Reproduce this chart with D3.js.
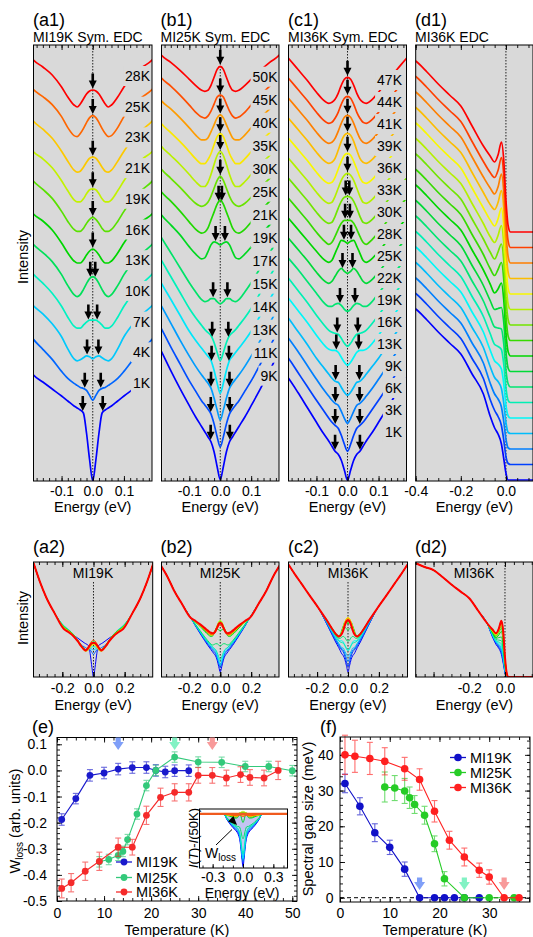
<!DOCTYPE html>
<html>
<head>
<meta charset="utf-8">
<script src="https://cdn.jsdelivr.net/npm/d3@7"></script>
<style>
  body { margin: 0; background: #fff; }
  svg { display: block; }
</style>
</head>
<body>
<svg id="fig"></svg>
<script>
const W = 533;
const H = 937;

// ── Data ──────────────────────────────────────────────────────────────────────

// symmetrised EDCs: positive-energy half (eV), mirrored when drawn
const E_SYM = [0, 0.01, 0.02, 0.03, 0.04, 0.05, 0.06, 0.08, 0.10, 0.13, 0.16, 0.19];

// MI19K (a1 / a2)
const A_TEMPS = [1, 4, 7, 10, 13, 16, 19, 21, 23, 25, 28];
const A_CURVES = [
  [0, 21, 48, 68, 71, 73, 75, 80, 85, 92, 99, 106],
  [49, 54, 59, 61, 62, 64, 66, 71, 78, 90, 100, 110],
  [59, 61, 62, 60, 58, 57, 59, 69, 81, 94, 104, 112],
  [66, 66, 64, 61, 58, 58, 60, 69, 80, 93, 103, 112],
  [78, 76, 71, 65, 60, 58, 60, 69, 80, 93, 102, 110],
  [74, 72, 68, 63, 60, 60, 62, 70, 80, 93, 102, 109],
  [74, 72, 68, 63, 60, 60, 62, 70, 80, 93, 102, 110],
  [71, 70, 66, 61, 58, 58, 60, 69, 79, 92, 101, 108],
  [71, 70, 66, 61, 57, 56, 58, 67, 77, 90, 99, 107],
  [81, 79, 74, 68, 63, 60, 61, 69, 80, 92, 100, 107],
  [75, 74, 71, 66, 61, 58, 60, 68, 78, 90, 98, 105],
];
const A_TAIL_E = [0.25, 0.30, 0.34, 0.385];
const A_TAIL   = [140, 172, 205, 250];

// MI25K (b1 / b2)
const B_TEMPS = [9, 11, 13, 14, 15, 17, 19, 21, 25, 30, 35, 40, 45, 50];
const B_CURVES = [
  [12, 25, 40, 50, 55, 60, 65, 75, 86, 103, 121, 140],
  [22, 32, 45, 55, 60, 64, 68, 78, 88, 105, 122, 140],
  [26, 36, 48, 58, 63, 67, 71, 80, 90, 106, 123, 140],
  [30, 40, 53, 63, 67, 71, 75, 83, 92, 108, 124, 140],
  [40, 48, 58, 65, 68, 71, 75, 83, 92, 108, 124, 140],
  [74, 76, 79, 79, 77, 76, 78, 86, 95, 110, 125, 140],
  [110, 112, 113, 110, 103, 97, 96, 101, 108, 120, 130, 140],
  [132, 128, 120, 112, 104, 100, 99, 103, 110, 121, 131, 140],
  [133, 129, 121, 113, 107, 104, 103, 106, 112, 122, 131, 140],
  [135, 131, 122, 112, 104, 100, 100, 105, 112, 122, 131, 140],
  [130, 127, 119, 110, 104, 100, 100, 105, 112, 122, 131, 140],
  [126, 123, 116, 109, 103, 101, 101, 106, 113, 123, 132, 140],
  [123, 121, 114, 107, 102, 100, 101, 106, 113, 123, 132, 140],
  [129, 126, 118, 110, 105, 104, 105, 110, 116, 125, 133, 140],
];
const B_TAIL_E = [0.25, 0.30, 0.34, 0.385];
const B_TAIL   = [175, 206, 237, 265];

// MI36K (c1 / c2)
const C_TEMPS = [1, 3, 6, 9, 13, 16, 19, 22, 25, 28, 30, 33, 36, 39, 41, 44, 47];
const C_CURVES = [
  [8, 18, 28, 34, 37, 42, 47, 56, 66, 81, 96, 110],
  [17, 24, 33, 40, 43, 46, 50, 59, 68, 82, 96, 110],
  [25, 30, 37, 43, 45, 48, 52, 60, 69, 83, 97, 110],
  [33, 36, 41, 46, 47, 50, 54, 62, 70, 84, 97, 110],
  [43, 46, 51, 56, 58, 58, 59, 65, 73, 86, 98, 110],
  [42, 45, 50, 54, 55, 56, 58, 65, 73, 86, 98, 110],
  [57, 59, 63, 65, 64, 62, 62, 67, 75, 87, 99, 110],
  [75, 77, 80, 77, 72, 67, 65, 69, 76, 88, 99, 110],
  [85, 87, 88, 82, 75, 68, 66, 70, 77, 88, 99, 110],
  [88, 88, 85, 79, 72, 66, 64, 69, 76, 88, 99, 110],
  [92, 91, 87, 80, 72, 66, 65, 69, 76, 88, 99, 110],
  [95, 93, 88, 80, 72, 66, 65, 69, 76, 88, 99, 110],
  [95, 93, 87, 79, 71, 66, 65, 69, 76, 88, 99, 110],
  [95, 93, 87, 78, 70, 66, 65, 69, 76, 88, 99, 110],
  [93, 91, 85, 77, 70, 66, 65, 69, 76, 88, 99, 110],
  [92, 90, 84, 76, 70, 66, 65, 69, 76, 88, 99, 110],
  [91, 89, 83, 75, 69, 66, 65, 69, 76, 88, 99, 110],
];
const C_TAIL_E = [0.25, 0.30, 0.34, 0.385];
const C_TAIL   = [131, 149, 163, 180];

// MI36K raw EDCs (d1 / d2), same temperatures as C_TEMPS
const E_D = [-0.5, -0.45, -0.4, -0.35, -0.3, -0.25, -0.2, -0.15, -0.1,
             -0.07, -0.05, -0.035, -0.02, -0.01, 0, 0.01, 0.02, 0.16];
const D_BROAD = [182, 176, 171, 160, 148, 137, 126, 106, 86];
const D_CURVES = [
  [64, 52, 46, 36, 22, 7, 0, 0, 0],
  [65, 54, 48, 39, 25, 8, 1, 0, 0],
  [66, 55, 50, 42, 28, 10, 1, 0, 0],
  [67, 56, 52, 45, 31, 11, 1, 0, 0],
  [68, 57, 54, 49, 35, 13, 2, 0, 0],
  [69, 58, 56, 53, 39, 15, 2, 0, 0],
  [70, 60, 59, 58, 44, 17, 3, 0, 0],
  [71, 62, 63, 64, 50, 20, 3, 0, 0],
  [72, 63, 67, 73, 57, 23, 4, 0, 0],
  [72, 65, 71, 78, 62, 25, 4, 0, 0],
  [73, 66, 73, 81, 65, 27, 5, 0, 0],
  [73, 67, 74, 84, 67, 28, 5, 0, 0],
  [74, 68, 75, 86, 69, 29, 5, 0, 0],
  [74, 69, 76, 88, 71, 30, 6, 0, 0],
  [75, 69, 76, 89, 72, 31, 6, 0, 0],
  [75, 70, 77, 90, 73, 31, 6, 0, 0],
  [76, 70, 77, 90, 73, 32, 6, 0, 0],
];

// (e) spectral weight loss
const WL_19_T   = [1, 4, 7, 10, 13, 16, 19, 21, 23, 25, 28];
const WL_19     = [-0.188, -0.108, -0.019, -0.01, 0.005, 0.011, 0.011, 0.0, -0.006, -0.001, -0.001];
const WL_19_ERR = [0.022, 0.02, 0.022, 0.022, 0.022, 0.022, 0.022, 0.022, 0.022, 0.022, 0.022];
const WL_25_T   = [9, 11, 13, 14, 15, 17, 19, 21, 25, 30, 35, 40, 45, 50];
const WL_25     = [-0.35, -0.341, -0.325, -0.31, -0.265, -0.167, -0.058, 0.0, 0.051, 0.032, 0.031, 0.015, 0.015, -0.001];
const WL_25_ERR = [0.02, 0.02, 0.02, 0.02, 0.02, 0.02, 0.02, 0.02, 0.02, 0.02, 0.02, 0.02, 0.02, 0.02];
const WL_36_T   = [1, 3, 6, 9, 13, 16, 19, 22, 25, 28, 30, 33, 36, 39, 41, 44, 47];
const WL_36     = [-0.452, -0.43, -0.386, -0.348, -0.294, -0.294, -0.172, -0.103, -0.084, -0.084,
                   -0.019, -0.019, -0.029, -0.016, -0.027, -0.029, 0.0];
const WL_36_ERR = [0.036, 0.035, 0.035, 0.035, 0.035, 0.03, 0.035, 0.035, 0.033, 0.033,
                   0.03, 0.03, 0.03, 0.03, 0.03, 0.03, 0.035];
const WL_MARK_T = [13, 25, 33];

// (f) spectral gap size (meV)
const GAP_19_T   = [1, 4, 7, 10, 13, 16, 19, 21, 23, 25, 28];
const GAP_19     = [32, 25.6, 18.2, 14.1, 8, 0, 0, 0, 0, 0, 0];
const GAP_19_ERR = [2.6, 2.4, 2.5, 2, 2, 0, 0, 0, 0, 0, 0];
const GAP_25_T   = [9, 11, 13, 14, 15, 17, 19, 21, 25, 30, 35];
const GAP_25     = [31, 30.7, 29.9, 28, 26.1, 23.1, 15.1, 5.3, 0, 0, 0];
const GAP_25_ERR = [4.2, 3.5, 3.5, 3, 2.5, 2.5, 2.2, 2, 0, 0, 0];
const GAP_36_T   = [1, 3, 6, 9, 13, 16, 19, 22, 25, 28, 30, 33, 36];
const GAP_36     = [40, 39.6, 39, 38.2, 36.1, 33.1, 24.2, 16.1, 11.4, 7.7, 5.8, 0, 0];
const GAP_36_ERR = [5.5, 4.5, 4.5, 3.8, 3.2, 3, 3, 2.5, 2.5, 2, 2, 0, 0];
const GAP_MARK_T = [16, 25, 33];

const SAMPLES = ['MI19K', 'MI25K', 'MI36K'];

// ── Style ─────────────────────────────────────────────────────────────────────

const FF = '"Liberation Sans", Arial, Helvetica, sans-serif';
const BG = '#d9d9d9';
const TOP_Y0 = 45, TOP_Y1 = 481;
const MID_Y0 = 562, MID_Y1 = 677;
const ARROW = 'M0,0L-4,-8L-1.3,-8L-1.3,-15L1.3,-15L1.3,-8L4,-8Z';
const BLOCK_ARROW = 'M0,0L-5.5,-8L-2.6,-8L-2.6,-12.5L2.6,-12.5L2.6,-8L5.5,-8Z';
const E_COLORS = ['#1a1acc', '#33c97a', '#f52a2a'];
const F_COLORS = ['#1010c8', '#26cc26', '#ff2020'];
const MARK_COLORS = ['#7f9ff8', '#82f2c4', '#f89a9a'];

const svg = d3.select('#fig').attr('width', W).attr('height', H).attr('font-family', FF);
svg.append('rect').attr('width', W).attr('height', H).attr('fill', '#fff');
const defs = svg.append('defs');

function rainbow(i, n) {
  const h = 240 * (1 - i / (n - 1));
  const l = 0.5 - 0.08 * Math.exp(-Math.pow((h - 120) / 45, 2));
  return d3.hsl(h, 1, l).formatHex();
}

// ── Helpers ───────────────────────────────────────────────────────────────────

function symPoints(vals, tailE, tail) {
  const e = E_SYM.concat(tailE);
  const v = vals.concat(tail);
  const pos = e.map((x, k) => [x, v[k]]);
  const neg = pos.slice(1).map(([x, y]) => [-x, y]).reverse();
  return neg.concat(pos);
}

function edcPoints(vals) {
  const v = D_BROAD.concat(vals);
  return E_D.map((x, k) => [x, v[k]]);
}

function valueAt(pts, e) {
  for (let k = 1; k < pts.length; k++) {
    if (e <= pts[k][0]) {
      const [x0, y0] = pts[k - 1], [x1, y1] = pts[k];
      return y0 + (y1 - y0) * (e - x0) / (x1 - x0);
    }
  }
  return pts[pts.length - 1][1];
}

function addClip(id, x0, y0, x1, y1) {
  defs.append('clipPath').attr('id', id).append('rect')
    .attr('x', x0).attr('y', y0).attr('width', x1 - x0).attr('height', y1 - y0);
  return `url(#${id})`;
}

function stepRange(a, b, s) {
  const out = [];
  for (let k = Math.ceil(a / s - 1e-9); k * s <= b + 1e-9; k++) out.push(+(k * s).toFixed(4));
  return out;
}

function ticks(g, orient, scale, values, len, pos, fmt, pad) {
  const maker = { bottom: d3.axisBottom, top: d3.axisTop, left: d3.axisLeft, right: d3.axisRight }[orient];
  const ax = maker(scale).tickValues(values).tickSizeInner(-len).tickSizeOuter(0)
    .tickPadding(pad || 0).tickFormat(fmt || (() => ''));
  const horiz = orient === 'bottom' || orient === 'top';
  const a = g.append('g').attr('transform', horiz ? `translate(0,${pos})` : `translate(${pos},0)`).call(ax);
  a.select('.domain').remove();
  a.attr('font-family', FF).attr('font-size', 14);
  a.selectAll('line').attr('stroke', '#000').attr('stroke-width', 0.9);
  a.selectAll('text').attr('fill', '#000');
  return a;
}

const fmtE = d => d.toFixed(1);

function frame(g, x0, y0, x1, y1) {
  g.append('rect').attr('x', x0).attr('y', y0).attr('width', x1 - x0).attr('height', y1 - y0)
    .attr('fill', 'none').attr('stroke', '#000').attr('stroke-width', 1);
}

function vText(g, cx, cy, size, build) {
  const t = g.append('text').attr('transform', `translate(${cx},${cy}) rotate(-90)`)
    .attr('text-anchor', 'middle').attr('font-size', size).attr('dy', '0.35em');
  build(t);
  return t;
}

// ── Top row: stacked EDCs ─────────────────────────────────────────────────────

const gap19 = new Map(GAP_19_T.map((t, k) => [t, GAP_19[k]]));
const gap25 = new Map(GAP_25_T.map((t, k) => [t, GAP_25[k]]));
const gap36 = new Map(GAP_36_T.map((t, k) => [t, GAP_36[k]]));

function stackPanel(p) {
  const g = svg.append('g');
  const x = d3.scaleLinear().domain(p.xDom).range([p.left, p.right]);
  const y = d3.scaleLinear().domain([0, p.base0 - TOP_Y0]).range([p.base0, TOP_Y0]);
  const n = p.curves.length;

  g.append('rect').attr('x', p.left).attr('y', TOP_Y0)
    .attr('width', p.right - p.left).attr('height', TOP_Y1 - TOP_Y0).attr('fill', BG);

  const inner = g.append('g').attr('clip-path', addClip('clip-' + p.id, p.left, TOP_Y0, p.right, TOP_Y1));
  inner.append('line').attr('x1', x(0)).attr('x2', x(0)).attr('y1', TOP_Y0).attr('y2', TOP_Y1)
    .attr('stroke', '#222').attr('stroke-width', 1).attr('stroke-dasharray', '1.5,1.5');

  const series = p.curves.map((c, i) => p.points(c).map(([e, v]) => [e, v + i * p.step]));
  const line = d3.line().x(d => x(d[0])).y(d => y(d[1])).curve(d3.curveMonotoneX);
  inner.selectAll('path.edc').data(series).join('path')
    .attr('class', 'edc').attr('d', line).attr('fill', 'none')
    .attr('stroke', (d, i) => rainbow(i, n)).attr('stroke-width', 1.7);

  if (p.labelRight) {
    p.temps.forEach((t, i) => {
      const ly = p.labelY0 + (n - 1 - i) * p.labelStep;
      const lg = inner.append('g');
      const txt = lg.append('text').attr('x', p.labelRight).attr('y', ly + 5)
        .attr('text-anchor', 'end').attr('font-size', 14).text(t + 'K');
      const bb = txt.node().getBBox();
      lg.insert('rect', 'text').attr('x', bb.x - 2).attr('y', ly - 10)
        .attr('width', p.right - bb.x + 2).attr('height', 20).attr('fill', BG);
    });
  }

  if (p.gaps) {
    series.forEach((s, i) => {
      const gap = p.gaps.get(p.temps[i]) || 0;
      const es = gap > 0 ? [-gap / 1000, gap / 1000] : [0];
      es.forEach(e => {
        g.append('path').attr('d', ARROW).attr('fill', '#000')
          .attr('transform', `translate(${x(e)},${y(valueAt(s, e)) - 1.5})`);
      });
    });
  }

  const minors = stepRange(p.xDom[0], p.xDom[1], p.minorStep);
  ticks(g, 'bottom', x, minors, 3, TOP_Y1);
  ticks(g, 'top', x, minors, 3, TOP_Y0);
  ticks(g, 'top', x, p.majors, 5, TOP_Y0);
  ticks(g, 'bottom', x, p.majors, 5, TOP_Y1, fmtE, 5.5);
  frame(g, p.left, TOP_Y0, p.right, TOP_Y1);

  g.append('text').attr('x', (p.left + Math.min(p.right, W)) / 2).attr('y', 511.5)
    .attr('text-anchor', 'middle').attr('font-size', 14.5).text('Energy (eV)');
  g.append('text').attr('x', p.tagX).attr('y', 26).attr('font-size', 18).text(p.tag);
  g.append('text').attr('x', p.tagX).attr('y', 41.5).attr('font-size', 14).text(p.title);
}

stackPanel({
  id: 'a1', tag: '(a1)', title: 'MI19K Sym. EDC', tagX: 33,
  left: 33.5, right: 152, xDom: [-0.19, 0.19], base0: 481, step: 31.6,
  temps: A_TEMPS, curves: A_CURVES, points: c => symPoints(c, A_TAIL_E, A_TAIL),
  gaps: gap19, labelRight: 150, labelY0: 76, labelStep: 30.7,
  majors: [-0.1, 0, 0.1], minorStep: 0.02,
});
stackPanel({
  id: 'b1', tag: '(b1)', title: 'MI25K Sym. EDC', tagX: 160.5,
  left: 161.5, right: 279, xDom: [-0.19, 0.19], base0: 491.7, step: 22.8,
  temps: B_TEMPS, curves: B_CURVES, points: c => symPoints(c, B_TAIL_E, B_TAIL),
  gaps: gap25, labelRight: 277.5, labelY0: 76.7, labelStep: 23,
  majors: [-0.1, 0, 0.1], minorStep: 0.02,
});
stackPanel({
  id: 'c1', tag: '(c1)', title: 'MI36K Sym. EDC', tagX: 288,
  left: 288.5, right: 406.5, xDom: [-0.19, 0.19], base0: 488.3, step: 20,
  temps: C_TEMPS, curves: C_CURVES, points: c => symPoints(c, C_TAIL_E, C_TAIL),
  gaps: gap36, labelRight: 402, labelY0: 80, labelStep: 22,
  majors: [-0.1, 0, 0.1], minorStep: 0.02,
});
stackPanel({
  id: 'd1', tag: '(d1)', title: 'MI36K EDC', tagX: 415,
  left: 415.7, right: 533, xDom: [-0.4, 0.12], base0: 480, step: 15.5,
  temps: C_TEMPS, curves: D_CURVES, points: edcPoints,
  majors: [-0.4, -0.2, 0], minorStep: 0.05,
});

vText(svg, 23, 257, 14.5, t => t.text('Intensity'));

// ── Middle row: overlaid EDCs ─────────────────────────────────────────────────

function overlayPanel(p) {
  const g = svg.append('g');
  const x = d3.scaleLinear().domain(p.xDom).range([p.left, p.right]);
  const y = d3.scaleLinear().domain([0, p.yMax]).range([MID_Y1, MID_Y0]);
  const n = p.curves.length;

  g.append('rect').attr('x', p.left).attr('y', MID_Y0)
    .attr('width', p.right - p.left).attr('height', MID_Y1 - MID_Y0).attr('fill', BG);
  const inner = g.append('g').attr('clip-path', addClip('clip-' + p.id, p.left, MID_Y0, p.right, MID_Y1));
  inner.append('line').attr('x1', x(0)).attr('x2', x(0)).attr('y1', p.dotTop).attr('y2', MID_Y1)
    .attr('stroke', '#222').attr('stroke-width', 1).attr('stroke-dasharray', '1.5,1.5');

  const line = d3.line().x(d => x(d[0])).y(d => y(d[1])).curve(d3.curveMonotoneX);
  inner.selectAll('path.edc').data(p.curves.map(p.points)).join('path')
    .attr('class', 'edc').attr('d', line).attr('fill', 'none')
    .attr('stroke', (d, i) => rainbow(i, n))
    .attr('stroke-width', (d, i) => (i === n - 1 ? 2 : 1));

  g.append('text').attr('x', p.nameX).attr('y', 578).attr('text-anchor', 'middle')
    .attr('font-size', 14).text(p.name);

  const minors = stepRange(p.xDom[0], p.xDom[1], 0.05);
  ticks(g, 'bottom', x, minors, 3, MID_Y1);
  ticks(g, 'top', x, minors, 3, MID_Y0);
  ticks(g, 'top', x, p.majors, 5, MID_Y0);
  ticks(g, 'bottom', x, p.majors, 5, MID_Y1);
  ticks(g, 'bottom', x, p.labels, 5, MID_Y1, fmtE, 6);
  frame(g, p.left, MID_Y0, p.right, MID_Y1);

  g.append('text').attr('x', (p.left + Math.min(p.right, W)) / 2).attr('y', 710)
    .attr('text-anchor', 'middle').attr('font-size', 14.5).text('Energy (eV)');
  g.append('text').attr('x', p.tagX).attr('y', 553).attr('font-size', 18).text(p.tag);
}

overlayPanel({
  id: 'a2', tag: '(a2)', name: 'MI19K', tagX: 33, nameX: 93,
  left: 33.5, right: 152.7, xDom: [-0.385, 0.38], yMax: 252, dotTop: 582,
  curves: A_CURVES, points: c => symPoints(c, A_TAIL_E, A_TAIL),
  majors: [-0.2, 0, 0.2], labels: [-0.2, 0, 0.2],
});
overlayPanel({
  id: 'b2', tag: '(b2)', name: 'MI25K', tagX: 160.5, nameX: 220,
  left: 161.5, right: 279, xDom: [-0.38, 0.38], yMax: 273, dotTop: 582,
  curves: B_CURVES, points: c => symPoints(c, B_TAIL_E, B_TAIL),
  majors: [-0.2, 0, 0.2], labels: [-0.2, 0, 0.2],
});
overlayPanel({
  id: 'c2', tag: '(c2)', name: 'MI36K', tagX: 288, nameX: 348,
  left: 288.5, right: 407.5, xDom: [-0.385, 0.385], yMax: 184, dotTop: 582,
  curves: C_CURVES, points: c => symPoints(c, C_TAIL_E, C_TAIL),
  majors: [-0.2, 0, 0.2], labels: [-0.2, 0, 0.2],
});
overlayPanel({
  id: 'd2', tag: '(d2)', name: 'MI36K', tagX: 415, nameX: 474,
  left: 415.7, right: 533, xDom: [-0.5, 0.157], yMax: 184, dotTop: MID_Y0,
  curves: D_CURVES, points: edcPoints,
  majors: [-0.4, -0.2, 0], labels: [-0.2, 0],
});

vText(svg, 23, 618, 14.5, t => t.text('Intensity'));

// ── (e) spectral weight loss ──────────────────────────────────────────────────

function errorSeries(g, x, y, ts, vs, errs, color, r) {
  const pts = ts.map((t, k) => ({ t, v: vs[k], e: errs[k] }));
  const s = g.append('g');
  s.append('path').attr('d', d3.line().x(d => x(d.t)).y(d => y(d.v))(pts))
    .attr('fill', 'none').attr('stroke', color).attr('stroke-width', 1.1);
  const eb = s.append('g').attr('stroke', color).attr('stroke-width', 1.1).attr('opacity', 0.65);
  pts.filter(d => d.e > 0).forEach(d => {
    const xx = x(d.t), y0 = y(d.v - d.e), y1 = y(d.v + d.e);
    eb.append('line').attr('x1', xx).attr('x2', xx).attr('y1', y0).attr('y2', y1);
    eb.append('line').attr('x1', xx - 3).attr('x2', xx + 3).attr('y1', y0).attr('y2', y0);
    eb.append('line').attr('x1', xx - 3).attr('x2', xx + 3).attr('y1', y1).attr('y2', y1);
  });
  s.selectAll('circle').data(pts).join('circle')
    .attr('cx', d => x(d.t)).attr('cy', d => y(d.v)).attr('r', r).attr('fill', color);
}

function legend(g, x0, rows, colors, r) {
  SAMPLES.forEach((name, k) => {
    const yy = rows[k];
    g.append('line').attr('x1', x0).attr('x2', x0 + 16).attr('y1', yy).attr('y2', yy)
      .attr('stroke', colors[k]).attr('stroke-width', 1.3);
    g.append('circle').attr('cx', x0 + 8).attr('cy', yy).attr('r', r).attr('fill', colors[k]);
    g.append('text').attr('x', x0 + 20).attr('y', yy + 5).attr('font-size', 14.5).text(name);
  });
}

{
  const g = svg.append('g');
  const L = 57, R = 297, T = 737.5, B = 901;
  const x = d3.scaleLinear().domain([0, 51]).range([L, R]);
  const y = d3.scaleLinear().domain([-0.5, 0.126]).range([B, T]);

  const xMin = stepRange(0, 51, 2), yMin = stepRange(-0.5, 0.126, 0.02);
  const xMaj = [0, 10, 20, 30, 40, 50], yMaj = [-0.5, -0.4, -0.3, -0.2, -0.1, 0, 0.1];
  ticks(g, 'bottom', x, xMin, 3, B);
  ticks(g, 'top', x, xMin, 3, T);
  ticks(g, 'top', x, xMaj, 5, T);
  ticks(g, 'bottom', x, xMaj, 5, B, d => d, 7);
  ticks(g, 'left', y, yMin, 3, L);
  ticks(g, 'right', y, yMin, 3, R);
  ticks(g, 'right', y, yMaj, 5, R);
  ticks(g, 'left', y, yMaj, 5, L, d => d.toFixed(1), 10);
  frame(g, L, T, R, B);

  WL_MARK_T.forEach((t, k) => {
    g.append('path').attr('d', BLOCK_ARROW).attr('fill', MARK_COLORS[k])
      .attr('transform', `translate(${x(t)},750)`);
  });

  errorSeries(g, x, y, WL_19_T, WL_19, WL_19_ERR, E_COLORS[0], 3.4);
  errorSeries(g, x, y, WL_25_T, WL_25, WL_25_ERR, E_COLORS[1], 3.4);
  errorSeries(g, x, y, WL_36_T, WL_36, WL_36_ERR, E_COLORS[2], 3.4);
  legend(g, 116, [862, 877.5, 892], E_COLORS, 3.4);

  // inset: I(T) - I(50K) for MI25K
  const iL = 199.5, iR = 287.5, iT = 809, iB = 868;
  const ix = d3.scaleLinear().domain([-0.43, 0.44]).range([iL, iR]);
  const iy = d3.scaleLinear().domain([-120, 11]).range([iB, iT]);
  g.append('rect').attr('x', iL).attr('y', iT).attr('width', iR - iL).attr('height', iB - iT)
    .attr('fill', '#fff');
  const ig = g.append('g').attr('clip-path', addClip('clip-inset', iL, iT, iR, iB));
  const ref = symPoints(B_CURVES[B_CURVES.length - 1], B_TAIL_E, B_TAIL);
  const diffs = B_CURVES.map(c => symPoints(c, B_TAIL_E, B_TAIL).map(([e, v], k) => [e, v - ref[k][1]]));
  ig.append('path')
    .attr('d', d3.area().x(d => ix(d[0])).y0(iy(0)).y1(d => iy(d[1])).curve(d3.curveMonotoneX)(diffs[0]))
    .attr('fill', '#c4c4f2');
  const iline = d3.line().x(d => ix(d[0])).y(d => iy(d[1])).curve(d3.curveMonotoneX);
  diffs.forEach((d, i) => {
    ig.append('path').attr('d', iline(d)).attr('fill', 'none')
      .attr('stroke', rainbow(i, diffs.length)).attr('stroke-width', 1);
  });
  ig.append('line').attr('x1', iL).attr('x2', iR).attr('y1', iy(0)).attr('y2', iy(0))
    .attr('stroke', '#f05a1e').attr('stroke-width', 2.2);
  ticks(g, 'bottom', ix, stepRange(-0.4, 0.4, 0.1), 2.5, iB);
  ticks(g, 'bottom', ix, [-0.3, 0, 0.3], 4, iB, fmtE, 4);
  frame(g, iL, iT, iR, iB);

  g.append('line').attr('x1', 216).attr('y1', 845).attr('x2', 232).attr('y2', 829.5)
    .attr('stroke', '#000').attr('stroke-width', 1);
  g.append('path').attr('d', 'M0,0L-9,-3.5L-3.5,-9Z').attr('fill', '#000')
    .attr('transform', 'translate(237,825)');
  const wl = g.append('text').attr('x', 205).attr('y', 858).attr('font-size', 14);
  wl.append('tspan').text('W');
  wl.append('tspan').attr('font-size', 10).attr('dy', 3).text('loss');

  vText(g, 193, 838, 13, t => {
    t.append('tspan').attr('font-style', 'italic').text('I');
    t.append('tspan').text('(');
    t.append('tspan').attr('font-style', 'italic').text('T');
    t.append('tspan').text(')-');
    t.append('tspan').attr('font-style', 'italic').text('I');
    t.append('tspan').text('(50K)');
  });
  g.append('text').attr('x', 242).attr('y', 898).attr('text-anchor', 'middle')
    .attr('font-size', 14).text('Energy (eV)');

  vText(g, 15, 821, 14.5, t => {
    t.append('tspan').text('W');
    t.append('tspan').attr('font-size', 10).attr('dy', 3).text('loss');
    t.append('tspan').attr('dy', -3).text(' (arb. units)');
  });
  g.append('text').attr('x', (L + R) / 2).attr('y', 935).attr('text-anchor', 'middle')
    .attr('font-size', 14.5).text('Temperature (K)');
  g.append('text').attr('x', 32).attr('y', 733).attr('font-size', 18).text('(e)');
}

// ── (f) spectral gap size ─────────────────────────────────────────────────────

{
  const g = svg.append('g');
  const L = 340, R = 530, T = 737, B = 902;
  const x = d3.scaleLinear().domain([0, 38.2]).range([L, R]);
  const y = d3.scaleLinear().domain([-1.2, 45]).range([B, T]);

  const xMin = stepRange(0, 38, 2), yMin = stepRange(0, 44, 2);
  const xMaj = [0, 10, 20, 30], yMaj = [0, 10, 20, 30, 40];
  ticks(g, 'bottom', x, xMin, 3, B);
  ticks(g, 'top', x, xMin, 3, T);
  ticks(g, 'top', x, xMaj, 5, T);
  ticks(g, 'bottom', x, xMaj, 5, B, d => d, 6);
  ticks(g, 'left', y, yMin, 3, L);
  ticks(g, 'right', y, yMin, 3, R);
  ticks(g, 'right', y, yMaj, 5, R);
  ticks(g, 'left', y, yMaj, 5, L, d => d, 6.5);

  g.append('line').attr('x1', L).attr('x2', R).attr('y1', y(0)).attr('y2', y(0))
    .attr('stroke', '#000').attr('stroke-width', 1).attr('stroke-dasharray', '4,3');

  GAP_MARK_T.forEach((t, k) => {
    g.append('path').attr('d', BLOCK_ARROW).attr('fill', MARK_COLORS[k])
      .attr('transform', `translate(${x(t)},890)`);
  });

  const pg = g.append('g').attr('clip-path', addClip('clip-f', L, T - 10, R, B));
  errorSeries(pg, x, y, GAP_19_T, GAP_19, GAP_19_ERR, F_COLORS[0], 3.8);
  errorSeries(pg, x, y, GAP_25_T, GAP_25, GAP_25_ERR, F_COLORS[1], 3.8);
  errorSeries(pg, x, y, GAP_36_T, GAP_36, GAP_36_ERR, F_COLORS[2], 3.8);
  frame(g, L, T, R, B);
  legend(g, 450, [757.5, 772.5, 787.5], F_COLORS, 3.8);

  vText(g, 308, 819, 14.5, t => t.text('Spectral gap size (meV)'));
  g.append('text').attr('x', (L + R) / 2).attr('y', 935).attr('text-anchor', 'middle')
    .attr('font-size', 14.5).text('Temperature (K)');
  g.append('text').attr('x', 320).attr('y', 733).attr('font-size', 18).text('(f)');
}
</script>
</body>
</html>
